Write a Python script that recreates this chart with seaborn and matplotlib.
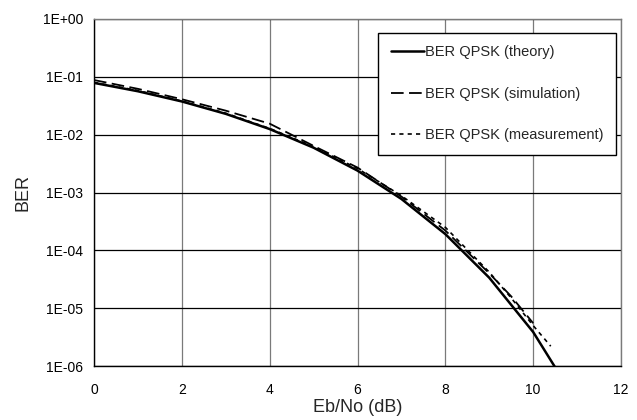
import numpy as np
import pandas as pd
import matplotlib
matplotlib.use("Agg")
import matplotlib.pyplot as plt
from matplotlib.ticker import FixedLocator, FuncFormatter, NullLocator
import seaborn as sns

# Eb/No in dB and bit error rates for QPSK
ebno_theory = [0, 1, 2, 3, 4, 5, 6, 7, 8, 9, 10, 10.5]
ber_theory = [0.0786, 0.0563, 0.0375, 0.0229, 0.0125, 0.00595, 0.00239,
              0.000773, 0.000191, 3.36e-5, 3.87e-6, 9.5e-7]

ebno_sim = [0, 1, 2, 3, 4, 5, 6, 7, 8, 9, 9.5, 10]
ber_sim = [0.088, 0.062, 0.041, 0.026, 0.0155, 0.0064, 0.0027,
           0.00085, 0.00022, 4.0e-5, 1.6e-5, 5.5e-6]

ebno_meas = [0, 1, 2, 3, 4, 5, 6, 7, 8, 9, 9.5, 10, 10.4]
ber_meas = [0.080, 0.058, 0.038, 0.0235, 0.0128, 0.0062, 0.0026,
            0.00088, 0.00025, 4.2e-5, 1.5e-5, 5.0e-6, 2.2e-6]

x_ticks = [0, 2, 4, 6, 8, 10, 12]
y_ticks = [1e-6, 1e-5, 1e-4, 1e-3, 1e-2, 1e-1, 1e0]

sns.set_style("white")
plt.rcParams["font.family"] = ["Liberation Sans", "DejaVu Sans"]

fig = plt.figure(figsize=(6.37, 4.2), dpi=100)
ax = fig.add_axes([94 / 637, 1 - 366 / 420, (621 - 94) / 637, (366 - 19) / 420])

sns.lineplot(x=ebno_theory, y=ber_theory, ax=ax, color="black", linewidth=1.8,
             label="BER QPSK (theory)")
sns.lineplot(x=ebno_sim, y=ber_sim, ax=ax, color="black", linewidth=1.3,
             linestyle=(0, (7, 3)), label="BER QPSK (simulation)")
sns.lineplot(x=ebno_meas, y=ber_meas, ax=ax, color="black", linewidth=1.2,
             linestyle=(0, (2.5, 2.5)), label="BER QPSK (measurement)")

ax.set_yscale("log")
ax.set_xlim(0, 12)
ax.set_ylim(1e-6, 1)
ax.xaxis.set_major_locator(FixedLocator(x_ticks))
ax.yaxis.set_major_locator(FixedLocator(y_ticks))
ax.yaxis.set_minor_locator(NullLocator())
ax.yaxis.set_major_formatter(FuncFormatter(
    lambda v, p: "1E{:+03d}".format(int(round(np.log10(v))))))
ax.xaxis.set_major_formatter(FuncFormatter(lambda v, p: "{:g}".format(v)))

# horizontal grid black, vertical grid grey
ax.grid(True, axis="y", color="black", linewidth=0.9)
ax.grid(True, axis="x", color="#7a7a7a", linewidth=0.9)
for name, sp in ax.spines.items():
    sp.set_color("#7a7a7a")
    sp.set_linewidth(1.0)
ax.spines["left"].set_color("black")
ax.spines["bottom"].set_color("black")
ax.tick_params(axis="both", which="major", direction="out", length=4, width=0.8,
               color="black", labelsize=10, labelcolor="black")
ax.tick_params(axis="x", pad=8)
ax.tick_params(axis="y", pad=4)

ax.set_xlabel("Eb/No (dB)", fontsize=13, labelpad=2)
ax.set_ylabel("BER", fontsize=13, labelpad=8)

leg = ax.legend(loc="upper right", bbox_to_anchor=(0.99, 0.96), frameon=True,
                fancybox=False, framealpha=1, edgecolor="black", fontsize=10.5,
                handlelength=2.3, handletextpad=0.05, labelspacing=1.88,
                borderpad=0.85, borderaxespad=0)
leg.get_frame().set_linewidth(1.0)

fig.savefig("out.png", dpi=100)
